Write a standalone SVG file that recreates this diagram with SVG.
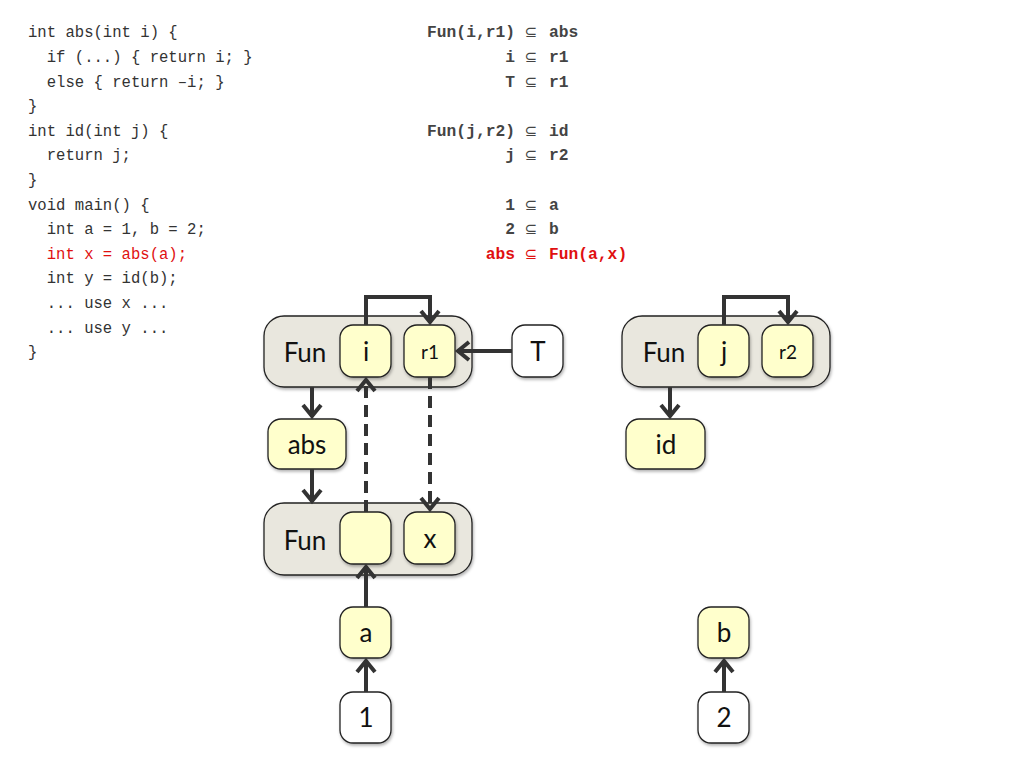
<svg xmlns="http://www.w3.org/2000/svg" width="1024" height="768" viewBox="0 0 1024 768">
<defs>
<style>
.code{font-family:"Liberation Mono","DejaVu Sans Mono",monospace;font-size:15.6px;fill:#333;}
.red{fill:#e01010;}
.con{font-family:"Liberation Mono","DejaVu Sans Mono",monospace;font-size:16.3px;font-weight:bold;fill:#444;}
.conr{fill:#e01010;}
.sub{font-family:"DejaVu Sans",sans-serif;font-size:15px;fill:#444;}
.box{fill:#e9e7de;stroke:#222;stroke-width:1.3;filter:url(#sh);}
.yn{fill:#ffffcc;stroke:#222;stroke-width:1.3;filter:url(#sh);}
.wn{fill:#ffffff;stroke:#222;stroke-width:1.3;filter:url(#sh);}
.lbl{font-family:Lato,"Open Sans","Noto Sans",sans-serif;font-size:26px;fill:#111;text-anchor:middle;dominant-baseline:central;}
.sm{font-size:19px;}
.e{fill:none;stroke:#333;stroke-width:4;marker-end:url(#ah);}
.d{stroke-dasharray:12 7;}
</style>
<filter id="sh" x="-20%" y="-20%" width="140%" height="150%">
<feDropShadow dx="1" dy="2" stdDeviation="1.5" flood-color="#000" flood-opacity="0.3"/>
</filter>
<marker id="ah" markerUnits="userSpaceOnUse" markerWidth="24" markerHeight="24" viewBox="0 0 24 24" refX="19" refY="12" orient="auto">
<path d="M7,3 L18,12 L7,21" fill="none" stroke="#333" stroke-width="4"/>
</marker>
</defs>
<rect width="1024" height="768" fill="#ffffff"/>

<g id="code">
<text class="code" x="28" y="37">int abs(int i) {</text>
<text class="code" x="28" y="62" xml:space="preserve">  if (...) { return i; }</text>
<text class="code" x="28" y="87" xml:space="preserve">  else { return –i; }</text>
<text class="code" x="28" y="111">}</text>
<text class="code" x="28" y="136">int id(int j) {</text>
<text class="code" x="28" y="160" xml:space="preserve">  return j;</text>
<text class="code" x="28" y="185">}</text>
<text class="code" x="28" y="210">void main() {</text>
<text class="code" x="28" y="234" xml:space="preserve">  int a = 1, b = 2;</text>
<text class="code red" x="28" y="259" xml:space="preserve">  int x = abs(a);</text>
<text class="code" x="28" y="283" xml:space="preserve">  int y = id(b);</text>
<text class="code" x="28" y="308" xml:space="preserve">  ... use x ...</text>
<text class="code" x="28" y="333" xml:space="preserve">  ... use y ...</text>
<text class="code" x="28" y="357">}</text>
</g>

<g id="constraints">
<text class="con" x="515" y="37" text-anchor="end">Fun(i,r1)</text><text class="sub" x="531" y="37" text-anchor="middle">⊆</text><text class="con" x="549" y="37">abs</text>
<text class="con" x="515" y="62" text-anchor="end">i</text><text class="sub" x="531" y="62" text-anchor="middle">⊆</text><text class="con" x="549" y="62">r1</text>
<text class="con" x="515" y="87" text-anchor="end">T</text><text class="sub" x="531" y="87" text-anchor="middle">⊆</text><text class="con" x="549" y="87">r1</text>
<text class="con" x="515" y="136" text-anchor="end">Fun(j,r2)</text><text class="sub" x="531" y="136" text-anchor="middle">⊆</text><text class="con" x="549" y="136">id</text>
<text class="con" x="515" y="160" text-anchor="end">j</text><text class="sub" x="531" y="160" text-anchor="middle">⊆</text><text class="con" x="549" y="160">r2</text>
<text class="con" x="515" y="210" text-anchor="end">1</text><text class="sub" x="531" y="210" text-anchor="middle">⊆</text><text class="con" x="549" y="210">a</text>
<text class="con" x="515" y="234" text-anchor="end">2</text><text class="sub" x="531" y="234" text-anchor="middle">⊆</text><text class="con" x="549" y="234">b</text>
<text class="con conr" x="515" y="259" text-anchor="end">abs</text><text class="sub conr" x="531" y="259" text-anchor="middle" style="fill:#e01010">⊆</text><text class="con conr" x="549" y="259">Fun(a,x)</text>
</g>

<g id="fun1">
<rect class="box" x="264" y="316" width="208" height="71" rx="20"/>
<text class="lbl" x="305" y="352">Fun</text>
</g>
<g id="i"><rect class="yn" x="340" y="325" width="51" height="52" rx="13"/><text class="lbl" x="366" y="351">i</text></g>
<g id="r1"><rect class="yn" x="404" y="325" width="51" height="52" rx="13"/><text class="lbl sm" x="430" y="351">r1</text></g>
<g id="T"><rect class="wn" x="512" y="325" width="51" height="52" rx="13"/><text class="lbl" x="538" y="351">T</text></g>
<g id="abs"><rect class="yn" x="268" y="419" width="78" height="50" rx="13"/><text class="lbl" x="307" y="444">abs</text></g>

<g id="fun2">
<rect class="box" x="264" y="503" width="208" height="72" rx="20"/>
<text class="lbl" x="305" y="540">Fun</text>
</g>
<g id="arg"><rect class="yn" x="340" y="512" width="51" height="52" rx="13"/></g>
<g id="x"><rect class="yn" x="404" y="512" width="51" height="52" rx="13"/><text class="lbl" x="430" y="538">x</text></g>

<g id="a"><rect class="yn" x="340" y="607" width="51" height="51" rx="13"/><text class="lbl" x="366" y="632">a</text></g>
<g id="n1"><rect class="wn" x="340" y="692" width="51" height="51" rx="13"/><text class="lbl" x="366" y="717">1</text></g>

<g id="fun3">
<rect class="box" x="622" y="316" width="208" height="71" rx="20"/>
<text class="lbl" x="664" y="352">Fun</text>
</g>
<g id="j"><rect class="yn" x="698" y="325" width="51" height="52" rx="13"/><text class="lbl" x="724" y="351">j</text></g>
<g id="r2"><rect class="yn" x="762" y="325" width="51" height="52" rx="13"/><text class="lbl sm" x="788" y="351">r2</text></g>
<g id="id"><rect class="yn" x="626" y="419" width="79" height="50" rx="13"/><text class="lbl" x="666" y="444">id</text></g>

<g id="b"><rect class="yn" x="698" y="607" width="51" height="51" rx="13"/><text class="lbl" x="724" y="632">b</text></g>
<g id="n2"><rect class="wn" x="698" y="692" width="51" height="51" rx="13"/><text class="lbl" x="724" y="717">2</text></g>

<g id="connectors">
<path class="e" d="M366,325 L366,297 L430,297 L430,323"/>
<path class="e" d="M512,351 L457,351"/>
<path class="e" d="M312,387 L312,417"/>
<path class="e" d="M312,469 L312,502"/>
<path class="e d" d="M366,512 L366,379"/>
<path class="e d" d="M430,377 L430,510"/>
<path class="e" d="M366,607 L366,566"/>
<path class="e" d="M366,692 L366,660"/>
<path class="e" d="M724,325 L724,297 L788,297 L788,323"/>
<path class="e" d="M670,387 L670,417"/>
<path class="e" d="M724,692 L724,660"/>
</g>
</svg>
